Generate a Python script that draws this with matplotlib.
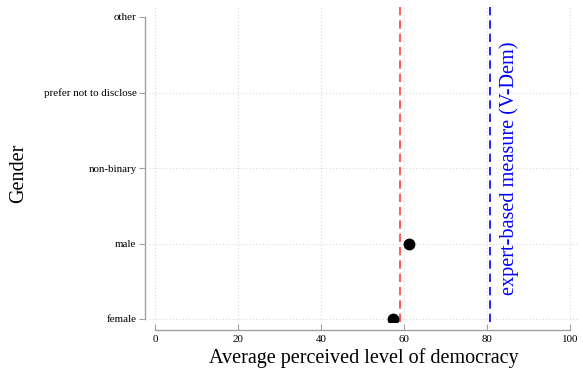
import matplotlib
matplotlib.use("Agg")
import matplotlib.pyplot as plt

categories = ["female", "male", "non-binary", "prefer not to disclose", "other"]
means = [57.3, 61.2, None, None, None]
overall_mean = 59.0
vdem = 80.8
xticks = [0, 20, 40, 60, 80, 100]

plt.rcParams['font.family'] = ['Liberation Serif', 'DejaVu Serif']

fig = plt.figure(figsize=(5.83, 3.76), dpi=100)
W, H = 583, 376
ax = fig.add_axes([149 / W, 1 - 322 / H, (578 - 149) / W, (322 - 5) / H])

x0, x100 = 155, 570
ppu = (x100 - x0) / 100
ax.set_xlim((149 - x0) / ppu, (578 - x0) / ppu)
ppc = (319 - 17) / 4
ax.set_ylim(-(322 - 319) / ppc, 4 + (17 - 5) / ppc)

for xt in xticks:
    ax.axvline(xt, color="#d8d8d8", lw=0.8, ls=(0, (1, 2)), zorder=0)
for i in range(4):
    ax.axhline(i, color="#d8d8d8", lw=0.8, ls=(0, (1, 2)), zorder=0)

ax.axvline(overall_mean, color="#ff4040", lw=1.2, ls=(0, (5, 3)), zorder=1)
ax.axvline(vdem, color="#0000ff", lw=1.2, ls=(0, (5, 3)), zorder=1)

xs = [m for m in means if m is not None]
ys = [i for i, m in enumerate(means) if m is not None]
ax.plot(xs, ys, "o", color="black", ms=7.5, zorder=3)

ax.text(vdem + 4.5, 2, "expert-based measure (V-Dem)", rotation=90,
        color="#0000ff", fontsize=14.6, ha="center", va="center")

ax.set_yticks(range(len(categories)))
ax.set_yticklabels(categories)
ax.set_xticks(xticks)
ax.set_xticklabels([str(x) for x in xticks])

for s in ["top", "right"]:
    ax.spines[s].set_visible(False)
ax.spines["left"].set_position(("outward", 3))
ax.spines["bottom"].set_position(("outward", 6))
ax.spines["left"].set_bounds(0, 4)
ax.spines["bottom"].set_bounds(0, 100)
for s in ["left", "bottom"]:
    ax.spines[s].set_color("#a0a0a0")
    ax.spines[s].set_linewidth(1.0)
ax.tick_params(axis="y", direction="out", length=4, color="#a0a0a0", pad=2,
               labelsize=7.9)
ax.tick_params(axis="x", direction="in", length=4, color="#a0a0a0", pad=3,
               labelsize=7.9)

ax.set_xlabel("Average perceived level of democracy", fontsize=14.5, labelpad=3)
ax.set_ylabel("Gender", fontsize=14.5, va="center")
ax.yaxis.set_label_coords(-0.303, 0.47)

fig.savefig("out.png", dpi=100)
